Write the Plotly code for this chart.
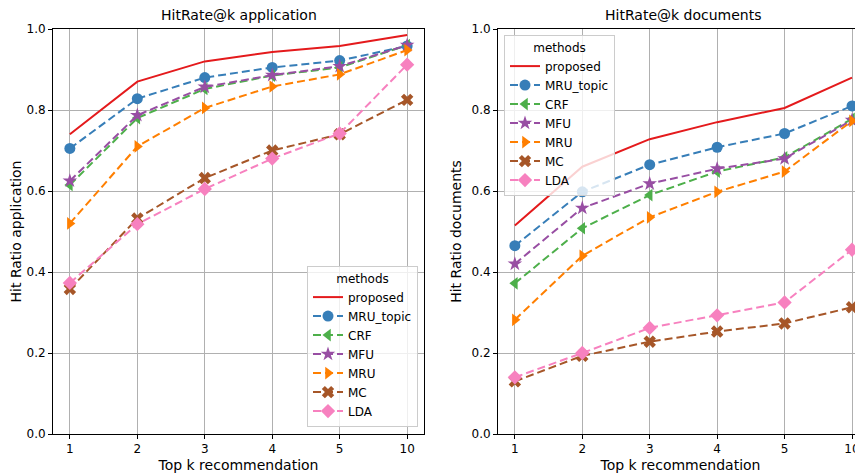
import plotly.graph_objects as go

k_labels = ["1", "2", "3", "4", "5", "10"]
methods = ["proposed", "MRU_topic", "CRF", "MFU", "MRU", "MC", "LDA"]

app_proposed = [0.740, 0.870, 0.920, 0.943, 0.958, 0.985]
app_mru_topic = [0.705, 0.828, 0.880, 0.905, 0.922, 0.958]
app_crf = [0.615, 0.780, 0.852, 0.885, 0.905, 0.960]
app_mfu = [0.625, 0.787, 0.857, 0.886, 0.908, 0.960]
app_mru = [0.520, 0.710, 0.805, 0.858, 0.888, 0.948]
app_mc = [0.358, 0.532, 0.632, 0.700, 0.740, 0.825]
app_lda = [0.373, 0.518, 0.605, 0.680, 0.742, 0.912]

doc_proposed = [0.515, 0.660, 0.728, 0.770, 0.805, 0.880]
doc_mru_topic = [0.465, 0.598, 0.665, 0.708, 0.742, 0.810]
doc_crf = [0.372, 0.508, 0.590, 0.648, 0.683, 0.778]
doc_mfu = [0.420, 0.558, 0.618, 0.655, 0.680, 0.775]
doc_mru = [0.282, 0.440, 0.535, 0.598, 0.648, 0.773]
doc_mc = [0.130, 0.193, 0.228, 0.253, 0.273, 0.313]
doc_lda = [0.140, 0.200, 0.262, 0.293, 0.325, 0.455]

app_series = [app_proposed, app_mru_topic, app_crf, app_mfu, app_mru, app_mc, app_lda]
doc_series = [doc_proposed, doc_mru_topic, doc_crf, doc_mfu, doc_mru, doc_mc, doc_lda]

colors = ["#e41a1c", "#377eb8", "#4daf4a", "#984ea3", "#ff7f00", "#a65628", "#f781bf"]
symbols = [None, "circle", "triangle-left", "star", "triangle-right", "x", "diamond"]

FONT = "DejaVu Sans"
# The page body adds an 8px offset; figure is sized so it ends at the window edge.
OFF = 8
W, H = 863 - OFF, 473 - OFF
ml = 53 - OFF
mt = 29 - OFF
mb = H - (434 - OFF)
pw = W - ml
ph = H - mt - mb
idx = list(range(len(k_labels)))

def px(xpage):
    return (xpage - OFF - ml) / pw

fig = go.Figure()

for panel, series in ((1, app_series), (2, doc_series)):
    for i, (name, ys) in enumerate(zip(methods, series)):
        if symbols[i] is None:
            tr = go.Scatter(x=idx, y=ys, mode="lines", name=name,
                            line=dict(color=colors[i], width=2))
        else:
            tr = go.Scatter(x=idx, y=ys, mode="lines+markers", name=name,
                            line=dict(color=colors[i], width=2, dash="8px,4px"),
                            marker=dict(symbol=symbols[i], size=11, color=colors[i],
                                        line=dict(width=0)))
        tr.update(xaxis="x" if panel == 1 else "x2",
                  yaxis="y" if panel == 1 else "y2",
                  legend="legend" if panel == 1 else "legend2")
        fig.add_trace(tr)

x1_dom = [0, px(424)]
x2_dom = [px(498), 1]

axis_common = dict(showgrid=True, gridcolor="#b0b0b0", gridwidth=0.8,
                   showline=True, linecolor="black", linewidth=1,
                   ticks="outside", ticklen=4, tickcolor="black",
                   tickfont=dict(family=FONT, size=12, color="black"),
                   zeroline=False, ticklabeloverflow="allow")

yticks = [0, 0.2, 0.4, 0.6, 0.8, 1.0]
ytext = ["0.0", "0.2", "0.4", "0.6", "0.8", "1.0"]

legend_common = dict(bgcolor="rgba(255,255,255,0.8)", bordercolor="#cccccc", borderwidth=1,
                     font=dict(family=FONT, size=12), tracegroupgap=0,
                     title=dict(text="methods", side="top center", font=dict(size=12)))

fig.update_layout(
    width=W, height=H,
    margin=dict(l=ml, r=0, t=mt, b=mb),
    paper_bgcolor="white", plot_bgcolor="white",
    font=dict(family=FONT, size=12, color="black"),
    xaxis=dict(domain=x1_dom, range=[-0.25, 5.25], tickmode="array",
               tickvals=idx, ticktext=k_labels, mirror=True,
               title=dict(text="Top k recommendation", font=dict(size=14), standoff=4),
               **axis_common),
    yaxis=dict(domain=[0, 1], range=[0, 1], tickmode="array",
               tickvals=yticks, ticktext=ytext, mirror=True,
               title=dict(text="Hit Ratio application", font=dict(size=14), standoff=6),
               **axis_common),
    xaxis2=dict(domain=x2_dom, range=[-0.25, (863 - 515) / 67.4], tickmode="array",
                tickvals=idx, ticktext=k_labels, mirror=True, anchor="y2",
                title=dict(text="Top k recommendation", font=dict(size=14), standoff=4),
                **axis_common),
    yaxis2=dict(domain=[0, 1], range=[0, 1], tickmode="array", anchor="x2",
                tickvals=yticks, ticktext=ytext,
                title=dict(text="Hit Ratio documents", font=dict(size=14), standoff=6),
                **axis_common),
    legend=dict(x=px(418), xanchor="right", y=(434 - 427) / ph, yanchor="bottom",
                **legend_common),
    legend2=dict(x=px(504), xanchor="left", y=1 - (35 - 29) / ph, yanchor="top",
                 **legend_common),
    annotations=[
        dict(text="HitRate@k application", x=sum(x1_dom) / 2, y=1, xref="paper", yref="paper",
             xanchor="center", yanchor="bottom", yshift=4, showarrow=False,
             font=dict(family=FONT, size=14)),
        dict(text="HitRate@k documents", x=px((498 + 869) / 2), y=1,
             xref="paper", yref="paper", xanchor="center", yanchor="bottom", yshift=4,
             showarrow=False, font=dict(family=FONT, size=14)),
    ],
)

fig.write_html("out.html")
